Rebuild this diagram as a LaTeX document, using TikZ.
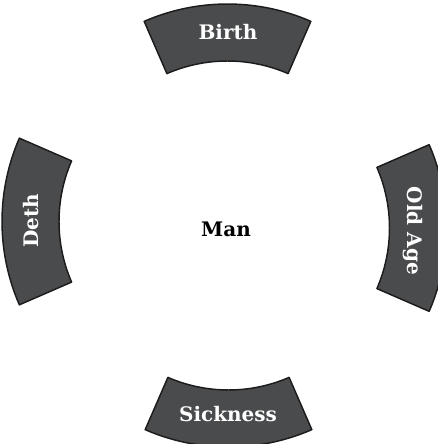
\documentclass[tikz,border=0pt]{standalone}
\usepackage{fontspec}
\setmainfont{DejaVu Serif}
\definecolor{secfill}{RGB}{74,75,77}
\definecolor{secline}{RGB}{28,28,28}
\tikzset{
  secshape/.style={fill=secfill,draw=secline,line width=1.1pt,line join=round},
  seclabel/.style={text=white,font=\bfseries\fontsize{15}{18}\selectfont,inner sep=0pt},
  centerlabel/.style={text=black,font=\bfseries\fontsize{15}{18}\selectfont,inner sep=0pt}
}
\newcommand\ringsector[3]{%
  \begin{scope}[shift={(#1,#2)}]
    \path[secshape] (#3-23.5:209) arc[start angle=#3-23.5,end angle=#3+23.5,radius=156.75pt]
      -- (#3+23.5:152) arc[start angle=#3+23.5,end angle=#3-23.5,radius=114pt] -- cycle;
  \end{scope}}
\begin{document}
\begin{tikzpicture}[x=0.75pt,y=0.75pt]
\useasboundingbox (0,0) rectangle (438,444);
\clip (0,0) rectangle (438,444);
\ringsector{227.5}{231}{90}
\ringsector{228.5}{206}{270}
\ringsector{211}{222.5}{180}
\ringsector{237.5}{216}{0}
\node[seclabel] (birth) at (228,412) {Birth};
\node[seclabel] (sick) at (228,30) {Sickness};
\node[seclabel,rotate=90] (deth) at (31,223) {Deth};
\node[seclabel,rotate=-90] (old) at (413,213) {Old Age};
\node[centerlabel] (man) at (226,215) {Man};
\end{tikzpicture}
\end{document}
